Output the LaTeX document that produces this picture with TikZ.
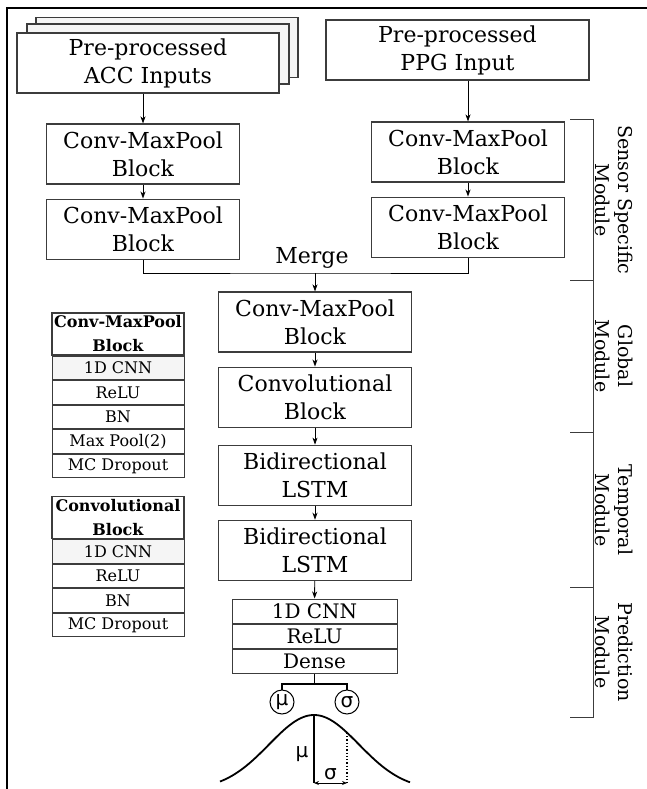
\documentclass[tikz,border=0pt]{standalone}
\usepackage{fontspec}
\setmainfont{DejaVu Serif}
\newfontfamily\greekfont{DejaVu Sans}
\usetikzlibrary{arrows.meta,positioning,calc}
\definecolor{edge}{RGB}{60,60,60}
\definecolor{shade}{RGB}{245,245,245}
\tikzset{
  flow/.style={-{Stealth[length=7pt,width=5pt,inset=2pt]},line width=0.9pt},
  box/.style={draw=edge,line width=1.1pt,fill=white,align=center,
              minimum width=193pt,minimum height=60pt,inner sep=0pt,
              font=\fontsize{22}{28}\selectfont},
  stackbox/.style={box,minimum width=262pt,fill=shade},
  tabrow/.style={draw=edge,line width=1pt,minimum width=132pt,minimum height=23.5pt,
                 inner sep=0pt,font=\fontsize{16}{19}\selectfont},
  tabhead/.style={tabrow,line width=1.5pt,minimum height=42pt,align=center,
                  font=\fontsize{16}{24}\selectfont\bfseries},
  predrow/.style={tabrow,minimum width=165pt,minimum height=24pt,font=\fontsize{20}{24}\selectfont},
  param/.style={circle,draw,line width=1pt,minimum size=24pt,inner sep=0pt,
                font=\greekfont\fontsize{20}{24}\selectfont},
  bracket/.style={draw=edge,line width=1pt},
  modlabel/.style={rotate=-90,align=center,font=\fontsize{19}{23}\selectfont}
}
\begin{document}
\begin{tikzpicture}[x=1pt,y=-1pt,node distance=14pt]
  \useasboundingbox (0,0) rectangle (647,789);
  \draw[line width=1.3pt] (7,789) |- (647,8);

  \node[stackbox] (accback) at (167,47.5) {};
  \node[stackbox] (accmid) at (158,54) {};
  \node[stackbox,fill=white] (acc) at (148,63) {Pre-processed\\ACC Inputs};
  \node[box,minimum width=263pt] (ppg) at (457.5,50) {Pre-processed\\PPG Input};

  \node[box] (accblk1) at (143,154) {Conv-MaxPool\\Block};
  \node[box,below=of accblk1] (accblk2) {Conv-MaxPool\\Block};
  \node[box] (ppgblk1) at (468,152) {Conv-MaxPool\\Block};
  \node[box,below=of ppgblk1] (ppgblk2) {Conv-MaxPool\\Block};
  \node[box] (gblk) at (315,322) {Conv-MaxPool\\Block};
  \node[box,below=of gblk] (gconv) {Convolutional\\Block};
  \node[box,below=17pt of gconv] (lstm1) {Bidirectional\\LSTM};
  \node[box,below=of lstm1] (lstm2) {Bidirectional\\LSTM};
  \node[predrow] (pcnn) at (314.5,611) {1D CNN};
  \node[predrow,below=0pt of pcnn] (prelu) {ReLU};
  \node[predrow,below=0pt of prelu] (pdense) {Dense};

  \draw[flow] (acc.south -| accblk1.north) -- (accblk1);
  \draw[flow] (ppg.south -| ppgblk1.north) -- (ppgblk1);
  \draw[flow] (accblk1) -- (accblk2);
  \draw[flow] (ppgblk1) -- (ppgblk2);
  \coordinate (merge) at (315,273);
  \draw[line width=0.9pt] (accblk2) |- (merge) -| (ppgblk2);
  \node[font=\fontsize{22}{28}\selectfont] (mergelbl) at (312,258) {Merge};
  \draw[flow] (merge) -- (gblk);
  \draw[flow] (gblk) -- (gconv);
  \draw[flow] (gconv) -- (lstm1);
  \draw[flow] (lstm1) -- (lstm2);
  \draw[flow] (lstm2) -- (pcnn);

  \node[param] (mu) at (282,702) {μ};
  \node[param] (sigma) at (347,702) {σ};
  \coordinate (split) at (314.5,684);
  \draw[line width=1.5pt] (pdense) -- (split);
  \draw[line width=1.5pt] (mu) |- (split) -| (sigma);

  \draw[line width=1.8pt,domain=220:410,samples=100,smooth]
    plot (\x,{790-75*exp(-((\x-314)^2)/4050)});
  \coordinate (peak) at (314,715);
  \coordinate (mid) at (314,783);
  \coordinate (sdtop) at (347,732.7);
  \coordinate (sdbase) at (347,783);
  \draw[line width=1.3pt] (peak) -- (mid);
  \draw[dotted,line width=1.3pt] (sdtop) -- (sdbase);
  \draw[{Stealth[length=5pt,width=4pt]}-{Stealth[length=5pt,width=4pt]},line width=0.9pt]
    (mid) -- (sdbase) node[midway,above=-1pt,font=\greekfont\fontsize{20}{24}\selectfont] (sdlbl) {σ};
  \node[font=\greekfont\fontsize{20}{24}\selectfont] (mulbl) at (302,754) {μ};

  \draw[bracket] (570,120) -| (593,717) -- (570,717);
  \foreach \y in {280,432,587} \draw[bracket] (570,\y) -- (593,\y);
  \node[modlabel] (sensorlbl) at (614,200) {Sensor Specific\\Module};
  \node[modlabel] (globallbl) at (614,356) {Global\\Module};
  \node[modlabel] (templbl) at (614,510) {Temporal\\Module};
  \node[modlabel] (predlbl) at (614,652) {Prediction\\Module};

  \node[tabhead] (cmphead) at (118,334) {Conv-MaxPool\\Block};
  \node[tabrow,fill=shade,below=0pt of cmphead] (cmpcnn) {1D CNN};
  \node[tabrow,below=0pt of cmpcnn] (cmprelu) {ReLU};
  \node[tabrow,below=0pt of cmprelu] (cmpbn) {BN};
  \node[tabrow,below=0pt of cmpbn] (cmppool) {Max Pool(2)};
  \node[tabrow,below=0pt of cmppool] (cmpdrop) {MC Dropout};

  \node[tabhead] (convhead) at (118,517.5) {Convolutional\\Block};
  \node[tabrow,fill=shade,below=0pt of convhead] (convcnn) {1D CNN};
  \node[tabrow,below=0pt of convcnn] (convrelu) {ReLU};
  \node[tabrow,below=0pt of convrelu] (convbn) {BN};
  \node[tabrow,below=0pt of convbn] (convdrop) {MC Dropout};
\end{tikzpicture}
\end{document}
